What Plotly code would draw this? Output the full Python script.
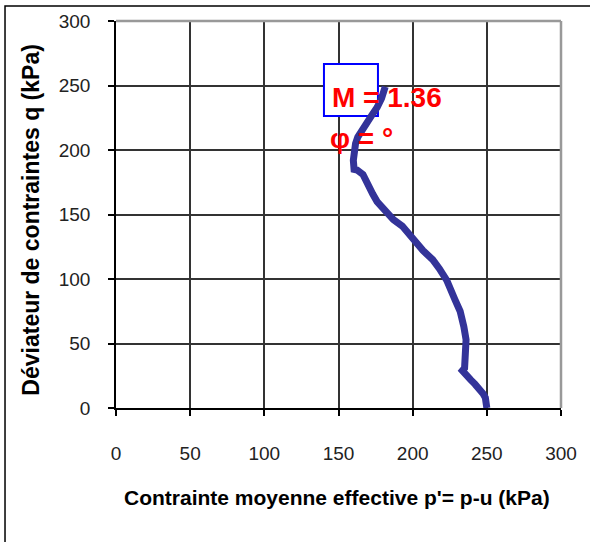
import plotly.graph_objects as go

# Effective stress path: mean effective stress p' and deviator stress q (kPa)
p_eff = [250, 250, 249, 247.5, 245, 242, 239, 236, 234, 233.5, 235, 235.5, 236.5,
         236, 234.5, 232, 228.5, 223, 218, 213.5, 207, 200, 193, 187, 180, 176,
         173, 170, 166.5, 162.5, 160.5, 160, 160.5, 161.5, 163, 166, 169, 172.5,
         176, 179, 181.5]
q_dev = [0, 4, 8, 11, 15, 18.5, 22, 25, 27, 29, 31, 37, 47, 53, 63, 75, 84, 99,
         108, 115, 122, 132, 141, 146, 154, 160, 166, 174, 181, 184.5, 185, 192,
         200, 205, 210, 216, 221, 227, 233, 240, 249]

tick_vals = [0, 50, 100, 150, 200, 250, 300]
tick_text = ["0", "50", "100", "150", "200", "250", "300"]

x_title = "Contrainte moyenne effective p'= p-u (kPa)"
y_title = "Déviateur de contraintes q (kPa)"
slope_label = "M = 1.36"
angle_label = "φ = °"

# label box corners (p', q)
box_p = [140.2, 176.6]
box_q = [226.4, 266.7]

fig = go.Figure()
fig.add_trace(go.Scatter(
    x=p_eff, y=q_dev, mode="lines",
    line=dict(color="#333399", width=7),
    showlegend=False, hoverinfo="skip",
))

axis_common = dict(
    range=[0, 300], tickvals=tick_vals, ticktext=tick_text,
    showgrid=True, gridcolor="#333333", gridwidth=1.5,
    zeroline=False, showline=True, linecolor="#000000", linewidth=1.5,
    ticks="outside", ticklen=6, tickcolor="#000000", tickwidth=1.5,
    tickfont=dict(family="Liberation Sans, Arial", size=19, color="#222222"),
    fixedrange=True,
)

fig.update_xaxes(**axis_common, ticklabelstandoff=21)
fig.update_yaxes(**axis_common, ticklabelstandoff=14)

fig.update_layout(
    width=590, height=542,
    margin=dict(l=116, r=29, t=21, b=134),
    paper_bgcolor="white", plot_bgcolor="white",
    shapes=[
        # gray frame on top and right of the plot area
        dict(type="line", xref="paper", yref="paper", x0=0, x1=1, y0=1, y1=1,
             line=dict(color="#999999", width=2.5), layer="above"),
        dict(type="line", xref="paper", yref="paper", x0=1, x1=1, y0=0, y1=1,
             line=dict(color="#999999", width=2.5), layer="above"),
        # outer chart frame
        dict(type="rect", xref="paper", yref="paper",
             x0=-0.2494, x1=1.08, y0=-0.37, y1=1.0388,
             line=dict(color="#000000", width=1.5), fillcolor="rgba(0,0,0,0)"),
        # box around the slope label
        dict(type="rect", xref="x", yref="y",
             x0=box_p[0], x1=box_p[1], y0=box_q[0], y1=box_q[1],
             line=dict(color="#0000ff", width=2), fillcolor="white",
             layer="between"),
    ],
    annotations=[
        dict(text=slope_label, x=144.3, y=241, xref="x", yref="y",
             xanchor="left", yanchor="middle", showarrow=False,
             font=dict(family="Liberation Sans, Arial", size=28,
                       color="#ff0000", weight="bold")),
        dict(text=angle_label, x=143, y=209.3, xref="x", yref="y",
             xanchor="left", yanchor="middle", showarrow=False,
             font=dict(family="Liberation Sans, Arial", size=28,
                       color="#ff0000", weight="bold")),
        dict(text=x_title, x=0.4966, y=-0.23, xref="paper", yref="paper",
             xanchor="center", yanchor="middle", showarrow=False,
             font=dict(family="Liberation Sans, Arial", size=21,
                       color="#000000", weight="bold")),
        dict(text=y_title, x=-0.193, y=0.487, xref="paper", yref="paper",
             xanchor="center", yanchor="middle", showarrow=False, textangle=-90,
             font=dict(family="Liberation Sans, Arial", size=23,
                       color="#000000", weight="bold")),
    ],
)

fig.write_html("out.html")
